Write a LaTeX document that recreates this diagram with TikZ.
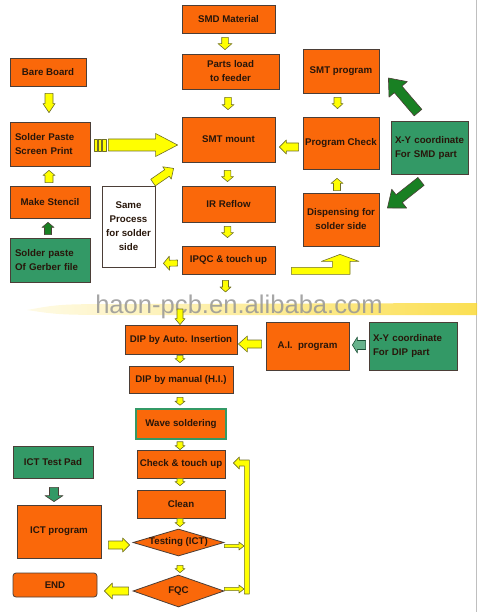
\documentclass[tikz,border=0pt]{standalone}
\usepackage{fontspec}
\setmainfont{Liberation Sans}
\usepackage{xcolor}
\usepackage{tikz}
\usetikzlibrary{shapes.geometric, calc}
\definecolor{boxorange}{RGB}{250,104,10}
\definecolor{boxedge}{RGB}{75,62,55}
\definecolor{boxgreen}{RGB}{51,153,102}
\definecolor{arrowgreen}{RGB}{25,128,35}
\definecolor{textdark}{RGB}{40,22,10}
\definecolor{arrowyellow}{RGB}{255,255,0}
\definecolor{arrowedge}{RGB}{110,110,40}
\definecolor{bandyellow}{RGB}{250,215,40}
\definecolor{markgray}{RGB}{150,150,150}

% block arrow: [style]{from}{to}{body half width}{head half width}{head length}
\newcommand{\blockarrow}[6][]{%
  \path #2 coordinate (ba-s) #3 coordinate (ba-e);%
  \pgfpointdiff{\pgfpointanchor{ba-s}{center}}{\pgfpointanchor{ba-e}{center}}%
  \pgfgetlastxy{\badx}{\bady}%
  \pgfmathsetmacro{\baang}{atan2(\bady,\badx)}%
  \pgfmathsetmacro{\balen}{veclen(\badx,\bady)}%
  \pgfmathsetmacro{\babase}{\balen-#6}%
  \begin{scope}[shift={(ba-s)}, rotate=\baang]
    \draw[#1] (0pt,-#4pt) -- (\babase pt,-#4pt) -- (\babase pt,-#5pt) -- (\balen pt,0pt)
      -- (\babase pt,#5pt) -- (\babase pt,#4pt) -- (0pt,#4pt) -- cycle;
  \end{scope}%
}

\begin{document}
\begin{tikzpicture}[
    x=1pt, y=-1pt,
    dims/.style 2 args={minimum width=#1, minimum height=#2},
    box/.style={rectangle, draw=boxedge, fill=boxorange, line width=0.8pt, align=center, inner sep=1pt, text=textdark, font=\bfseries\fontsize{9.7}{14}\selectfont},
    greenbox/.style={box, fill=boxgreen},
    notebox/.style={box, fill=white},
    decision/.style={diamond, draw=boxedge, fill=boxorange, line width=0.8pt, aspect=3.3, inner sep=0pt, text=textdark, font=\bfseries\fontsize{9.7}{14}\selectfont},
    yarrow/.style={fill=arrowyellow, draw=arrowedge, line width=0.6pt, line join=round},
    garrow/.style={fill=arrowgreen, draw=boxedge, line width=0.6pt, line join=round},
    parrow/.style={fill=boxgreen, draw=boxedge, line width=0.6pt, line join=round},
    tarrow/.style={fill=boxgreen!75, draw=boxgreen!50!black, line width=0.6pt, line join=round}
]
    \useasboundingbox (0,0) rectangle (477,612);
    \draw[gray!50] (476.5,0) -- (476.5,612);

    % SMT part
    \node[box, dims={93}{28}] (smd) at (228.5,19) {SMD Material};
    \node[box, dims={97}{35}] (parts) at (230.5,71.5) {Parts load\\to feeder};
    \node[box, dims={93}{45}] (mount) at (228.5,139.5) {SMT mount};
    \node[box, dims={93}{36}] (reflow) at (228.5,204) {IR Reflow};
    \node[box, dims={93}{28}] (ipqc) at (228.5,260) {IPQC \& touch up};
    \node[box, dims={76}{28}] (bare) at (48,72) {Bare Board};
    \node[box, dims={80}{44}, text width=70, align=left] (paste) at (50,144) {Solder Paste\\Screen Print};
    \node[box, dims={80}{32}] (stencil) at (50,202) {Make Stencil};
    \node[greenbox, dims={80}{44}, text width=70, align=left] (gerber) at (50,260) {Solder paste\\Of Gerber file};
    \node[notebox, dims={53}{81}] (same) at (128.5,226.5) {Same\\Process\\for solder\\side};
    \node[box, dims={76}{44}] (smtprog) at (341,71) {SMT program};
    \node[box, dims={76}{52}] (progcheck) at (341,143) {Program Check};
    \node[greenbox, dims={77}{53}, text width=69, align=left] (xysmd) at (429.5,147.5) {X-Y coordinate\\For SMD part};
    \node[box, dims={76}{53}] (dispense) at (341,219.5) {Dispensing for\\solder side};

    % page break band
    \shade[left color=bandyellow!15, right color=bandyellow, opacity=0.8] (27,310) .. controls (60,304) .. (140,304) -- (477,303) -- (477,315) -- (140,315) .. controls (60,315) .. (27,310) -- cycle;
    \node[font=\fontsize{25.6}{26}\selectfont, text=markgray, opacity=0.85] (mark) at (239,307) {haon-pcb.en.alibaba.com};
    \coordinate (cutA) at (225.5,292);
    \coordinate (cutB) at (180,309);

    % DIP part
    \node[box, dims={112}{29}] (autoins) at (181,339.5) {DIP by Auto. Insertion};
    \node[box, dims={83}{48}] (aiprog) at (307.5,346) {A.I.\ \ program};
    \node[greenbox, dims={88}{48}, text width=80, align=left] (xydip) at (413,346) {X-Y coordinate\\For DIP part};
    \node[box, dims={104}{27}] (manual) at (181,379.5) {DIP by manual (H.I.)};
    \node[box, dims={90}{30}, draw=boxgreen, line width=1.5pt] (wave) at (181,424) {Wave soldering};
    \node[box, dims={88}{28}] (touch) at (181,464) {Check \& touch up};
    \node[box, dims={88}{28}] (clean) at (181,504) {Clean};
    \node[decision, dims={91}{27}] (testing) at (178.5,542.5) {Testing (ICT)};
    \node[decision, dims={91}{32}] (fqc) at (178.5,591) {FQC};
    \node[greenbox, dims={80}{32}] (pad) at (53,462) {ICT Test Pad};
    \node[box, dims={84}{53}] (ictprog) at (59,531.5) {ICT program};
    \node[box, dims={84}{24}, rounded corners=3pt] (finish) at (55,585) {END};
    \coordinate (barT) at (244,546);
    \coordinate (barF) at (244,589);

    % arrows, SMT part
    \blockarrow[yarrow]{($(smd.south)+(-3.5,4)$)}{($(parts.north)+(-5.5,-4)$)}{3.3}{7}{6}
    \blockarrow[yarrow]{($(parts.south)+(-2.5,8)$)}{($(mount.north)+(-0.5,-7)$)}{3.3}{6}{5}
    \blockarrow[yarrow]{($(bare.south)+(1,7)$)}{($(paste.north)+(-1,-9)$)}{4}{6}{9}
    \blockarrow[yarrow]{($(stencil.north)+(-1,-3)$)}{($(paste.south)+(-1,4)$)}{4}{6}{5}
    \blockarrow[garrow]{($(gerber.north)+(-2,-3)$)}{($(stencil.south)+(-2,4)$)}{3.5}{6}{5}
    \foreach \a/\b in {4/7, 8/11, 12/16}
        \draw[yarrow] ($(paste.east)+(\a,-5)$) rectangle ($(paste.east)+(\b,7)$);
    \blockarrow[yarrow]{($(paste.east)+(18,1)$)}{($(mount.west)+(-4,5.5)$)}{6}{11.5}{22}
    \blockarrow[yarrow]{($(progcheck.west)+(-4,4)$)}{($(mount.east)+(4,7.5)$)}{4}{7}{7}
    \blockarrow[yarrow]{($(smtprog.south)+(-3.5,4)$)}{($(progcheck.north)+(-3.5,-8)$)}{3.5}{5.5}{5}
    \blockarrow[yarrow]{($(dispense.north)+(-4,-2)$)}{($(progcheck.south)+(-4,9)$)}{3.5}{6}{5}
    \blockarrow[garrow]{($(xysmd.north)+(-11.5,-8)$)}{($(smtprog.east)+(9,7)$)}{5}{12}{15}
    \blockarrow[garrow]{($(xysmd.south)+(-8.5,7)$)}{($(dispense.east)+(8,-11.5)$)}{5}{12}{15}
    \blockarrow[yarrow]{($(mount.south)+(-1,8)$)}{($(reflow.north)+(-1,-4)$)}{3.3}{6}{5}
    \blockarrow[yarrow]{($(reflow.south)+(-1,4)$)}{($(ipqc.north)+(-1,-8)$)}{3.3}{6}{5}
    \blockarrow[yarrow]{($(same.north)+(24.5,-3)$)}{($(mount.south west)+(-8,6)$)}{4}{7.5}{8}
    \blockarrow[yarrow]{($(ipqc.west)+(-4,3)$)}{($(same.south east)+(8,-4)$)}{3}{7}{6}
    \draw[yarrow] ($(ipqc.south east)+(16,0)$) -- ++(0,-7) -- ++(41,0) -- ++(0,-6) -- ++(-11,0)
        -- ($(dispense.south)+(-1,8)$) -- ++(19,7) -- ++(-9,0) -- ++(0,13) -- cycle;
    \blockarrow[yarrow]{($(ipqc.south)+(-3,6)$)}{(cutA)}{3}{5.5}{5}

    % arrows, DIP part
    \blockarrow[yarrow]{(cutB)}{($(autoins.north)+(-1,0)$)}{3}{5}{6}
    \blockarrow[yarrow]{($(aiprog.west)+(-4,-2)$)}{($(autoins.east)+(1,4.5)$)}{4}{8}{9}
    \blockarrow[tarrow]{($(xydip.west)+(-3,-1)$)}{($(aiprog.east)+(3,-1)$)}{4.5}{8}{5}
    \blockarrow[yarrow]{($(autoins.south)+(-1,1)$)}{($(manual.north)+(-1,-3)$)}{3}{5}{4}
    \blockarrow[yarrow]{($(manual.south)+(-1,4)$)}{($(wave.north)+(-1,-3)$)}{3}{5}{4}
    \blockarrow[yarrow]{($(wave.south)+(-1,2)$)}{($(touch.north)+(-1,0)$)}{3}{5}{4}
    \blockarrow[yarrow]{($(touch.south)+(-1,0)$)}{($(clean.north)+(-1,-4)$)}{3}{5}{4}
    \blockarrow[yarrow]{($(clean.south)+(-1,0)$)}{($(testing.north)+(1.5,-2)$)}{3}{5}{4}
    \blockarrow[yarrow]{($(testing.south)+(1.5,9)$)}{($(fqc.north)+(1.5,-2)$)}{3}{5}{4}
    \blockarrow[parrow]{($(pad.south)+(1,9)$)}{($(ictprog.north)+(-5,-3)$)}{4.5}{9}{6}
    \blockarrow[yarrow]{($(ictprog.east)+(7,13.5)$)}{($(testing.west)+(-3,2.5)$)}{4}{7}{7}
    \blockarrow[yarrow]{($(fqc.west)+(-4,0)$)}{($(finish.east)+(7,6)$)}{4}{8}{8}
    \blockarrow[yarrow]{($(testing.east)+(0,3.5)$)}{(barT)}{1.6}{4}{5}
    \blockarrow[yarrow]{($(fqc.east)+(0,-2)$)}{(barF)}{1.6}{4}{5}
    \draw[yarrow] ($(touch.east)+(8,-1)$) -- ++(6,-6) -- ++(0,3) -- ++(10,0) -- ++(0,134)
        -- ++(-5,0) -- ++(0,-128) -- ++(-5,0) -- ++(0,3) -- cycle;
\end{tikzpicture}
\end{document}
